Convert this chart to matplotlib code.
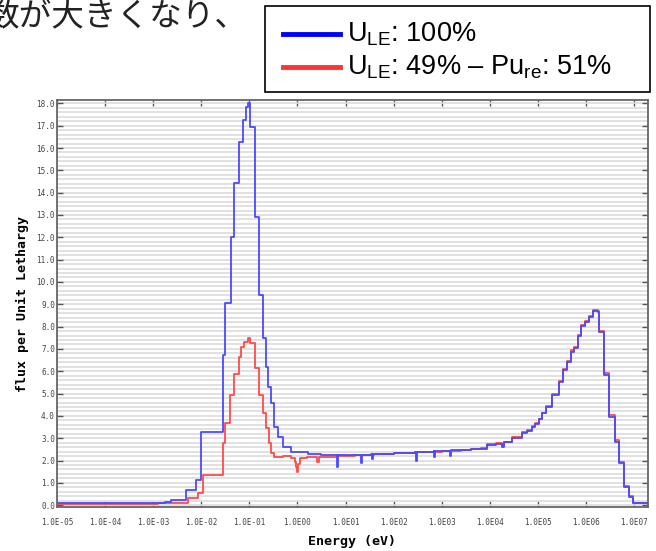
import numpy as np
import matplotlib.pyplot as plt
from matplotlib.lines import Line2D
from matplotlib.patches import Rectangle
from matplotlib.ticker import FixedLocator, FuncFormatter, MultipleLocator

plt.rcParams['mathtext.fontset'] = 'custom'
plt.rcParams['mathtext.rm'] = 'Liberation Sans'

# group lower edges, log10(E / eV), and flux per unit lethargy
u_logE = [-5.0, -2.95, -2.75, -2.62, -2.31, -2.10, -2.0, -1.55, -1.50, -1.39, -1.31,
          -1.21, -1.135, -1.07, -1.02, -0.98, -0.88, -0.79, -0.72, -0.65, -0.62,
          -0.55, -0.48, -0.41, -0.30, -0.13, 0.21, 0.50, 0.80, 0.82, 0.85, 1.0,
          1.15, 1.31, 1.33, 1.35, 1.54, 1.56, 1.58, 1.8, 2.0, 2.2, 2.44, 2.46,
          2.48, 2.7, 2.83, 2.85, 2.87, 3.0, 3.16, 3.18, 3.20, 3.4, 3.6]
u_flux = [0.08, 0.10, 0.13, 0.22, 0.67, 1.12, 3.27, 6.73, 9.07, 12.03, 14.44,
          16.28, 17.26, 17.85, 18.03, 16.96, 12.93, 9.42, 7.49, 6.19, 5.29,
          4.57, 3.50, 3.05, 2.60, 2.38, 2.29, 2.27, 2.25, 1.72, 2.25, 2.24,
          2.26, 2.27, 1.90, 2.27, 2.28, 2.05, 2.29, 2.30, 2.33, 2.35, 2.37, 2.00,
          2.38, 2.40, 2.41, 2.15, 2.42, 2.43, 2.45, 2.20, 2.46, 2.48, 2.50]

mix_logE = [-5.0, -2.9, -2.62, -2.28, -2.07, -1.97, -1.55, -1.50, -1.40, -1.31,
            -1.22, -1.17, -1.11, -1.03, -0.98, -0.89, -0.79, -0.72, -0.65, -0.60,
            -0.55, -0.48, -0.30, -0.13, -0.06, -0.03, -0.005, 0.02, 0.05, 0.2,
            0.38, 0.41, 0.44, 0.6, 0.8, 1.0, 1.2, 1.4, 1.6, 1.8, 2.0, 2.2, 2.44,
            2.7, 3.0, 3.4, 3.6]
mix_flux = [0.05, 0.08, 0.12, 0.31, 0.54, 1.35, 2.78, 3.69, 4.93, 5.87,
            6.64, 7.10, 7.32, 7.49, 7.26, 6.14, 4.93, 4.13, 3.45, 2.78,
            2.33, 2.15, 2.20, 2.12, 1.95, 1.70, 1.50, 1.85, 2.10, 2.15,
            2.14, 1.95, 2.15, 2.18, 2.20, 2.22, 2.24, 2.26, 2.29, 2.30, 2.33, 2.35, 2.37,
            2.40, 2.43, 2.48, 2.50]

# fast region, shared group edges
fast_logE = [3.81, 3.95, 4.12, 4.26, 4.29, 4.47, 4.67, 4.78, 4.88, 4.95, 5.02,
             5.09, 5.16, 5.30, 5.43, 5.52, 5.61, 5.68, 5.75, 5.83, 5.90, 5.99,
             6.06, 6.15, 6.24, 6.28, 6.37, 6.47, 6.61, 6.68, 6.80, 6.89, 6.98, 7.30]
fast_u = [2.54, 2.69, 2.74, 2.61, 2.81, 3.02, 3.22, 3.33, 3.51, 3.66, 3.84,
          4.11, 4.41, 4.93, 5.53, 6.05, 6.43, 6.88, 7.03, 7.58, 8.03, 8.22,
          8.44, 8.71, 8.67, 7.77, 5.83, 3.96, 2.84, 1.87, 0.82, 0.35, 0.10, 0.10]
fast_mix = [2.56, 2.72, 2.77, 2.64, 2.84, 3.06, 3.26, 3.37, 3.55, 3.70, 3.88,
            4.15, 4.45, 4.97, 5.57, 6.10, 6.48, 6.93, 7.08, 7.63, 8.07, 8.26,
            8.48, 8.76, 8.72, 7.82, 5.90, 4.04, 2.92, 1.95, 0.88, 0.40, 0.12, 0.12]

legend_labels = [r'U$_{\mathrm{LE}}$: 100%',
                 r'U$_{\mathrm{LE}}$: 49% – Pu$_{\mathrm{re}}$: 51%']

fig = plt.figure(figsize=(6.56, 5.51), dpi=100)
ax = fig.add_axes([57/656, 1-507/551, 591/656, 407/551])

E_u = 10**np.array(u_logE + fast_logE)
E_mix = 10**np.array(mix_logE + fast_logE)
ax.step(E_mix, mix_flux + fast_mix, where='post', color='#ff4a4a', lw=1.3)
ax.step(E_u, u_flux + fast_u, where='post', color='#4a4aff', lw=1.3)

ax.set_xscale('log')
ax.set_xlim(1e-5, 10**7.29)
ax.set_ylim(-0.08, 18.15)

decades = [10.0**e for e in range(-5, 8)]
ax.xaxis.set_major_locator(FixedLocator(decades))
ax.xaxis.set_minor_locator(FixedLocator([]))
def efmt(v, pos):
    e = int(round(np.log10(v)))
    return '1.0E' + ('-' if e < 0 else '') + '%02d' % abs(e)
ax.xaxis.set_major_formatter(FuncFormatter(efmt))
ax.yaxis.set_major_locator(MultipleLocator(1.0))
ax.yaxis.set_minor_locator(MultipleLocator(0.2))
ax.yaxis.set_major_formatter(FuncFormatter(lambda v, p: '%.1f' % v))
ax.grid(axis='y', which='both', color='#dcdcdc', lw=1.2)
ax.set_axisbelow(True)

ax.tick_params(axis='both', which='major', direction='in', top=True, right=True,
               length=4, width=1, color='#555555', labelsize=5.5, labelcolor='#444444')
ax.tick_params(axis='y', which='minor', length=0)
ax.tick_params(axis='x', pad=8)
ax.tick_params(axis='y', pad=1.5)
for lab in ax.get_xticklabels() + ax.get_yticklabels():
    lab.set_family('DejaVu Sans Mono')
for s in ax.spines.values():
    s.set_color('#666666')
    s.set_linewidth(1.3)

ax.set_xlabel('Energy (eV)', family='DejaVu Sans Mono', weight='bold', size=9.5, labelpad=6)
ax.set_ylabel('flux per Unit Lethargy', family='DejaVu Sans Mono', weight='bold', size=9.5, labelpad=5)

# slide text and legend box above the plot
fig.text(-13/656, 1-17/551, '数が大きくなり、', family=['Noto Sans CJK JP', 'DejaVu Sans'],
         size=23.5, va='center', ha='left', color='#222222')
fig.add_artist(Rectangle((265/656, 1-92/551), 385/656, 86/551, transform=fig.transFigure,
                         fill=False, ec='black', lw=1.2))
for i, (lab, col) in enumerate(zip(legend_labels, ['#0000ff', '#ff3333'])):
    yy = 1 - (34 + 33*i)/551
    fig.add_artist(Line2D([283/656, 340/656], [yy, yy], transform=fig.transFigure,
                          color=col, lw=3.5))
    fig.text(347/656, yy, lab, family='Liberation Sans', size=19.5, va='center', ha='left')

fig.savefig('out.png', dpi=100)
